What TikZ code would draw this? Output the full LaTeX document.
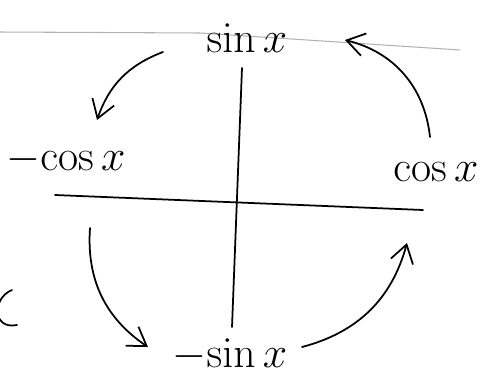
\documentclass[tikz,border=0pt]{standalone}
\usepackage{amsmath}
\usetikzlibrary{positioning, calc, arrows.meta}

\tikzset{
    hand/.style={line width=1pt, line cap=round},
    flow/.style={hand, -{Straight Barb[length=10pt, width=13pt]}},
    fn/.style={font=\fontsize{24}{28}\selectfont, inner sep=1pt}
}

\begin{document}
\begin{tikzpicture}[x=0.02cm, y=-0.02cm]

    \useasboundingbox (0,0) rectangle (483,379);

    % ================= ruled line of the page =================
    \draw[gray!60, line width=0.6pt] (0,32) -- (200,33) -- (460,50);

    % ================= Axes =================
    \coordinate (xl) at (55,195);
    \coordinate (xr) at (423,210);
    \coordinate (yt) at (242,68);
    \coordinate (yb) at (232,327);
    \draw[hand] (xl) -- (xr);
    \draw[hand] (yt) -- (yb);

    % ================= Derivatives =================
    \node[fn] (sinx)  at (247,38)  {$\sin x$};
    \node[fn] (mcosx) at (66,160)  {$-\!\cos x$};
    \node[fn] (cosx)  at (436,172) {$\cos x$};
    \node[fn] (msinx) at (230,355) {$-\!\sin x$};

    % ================= Cycle arrows =================
    \draw[flow] ($(sinx)+(-84,14)$) to[bend right=25] ($(mcosx)+(31,-40)$);
    \draw[flow] ($(mcosx)+(24,68)$) to[bend right=30] ($(msinx)+(-82,-8)$);
    \draw[flow] ($(msinx)+(72,-8)$) to[bend right=30] ($(cosx)+(-29,71)$);
    \draw[flow] ($(cosx)+(-6,-35)$) to[bend right=35] ($(sinx)+(98,2)$);

    % cut-off letter at the left edge
    \draw[hand] (12,290) .. controls (-8,298) and (-8,330) .. (17,325);

\end{tikzpicture}
\end{document}
